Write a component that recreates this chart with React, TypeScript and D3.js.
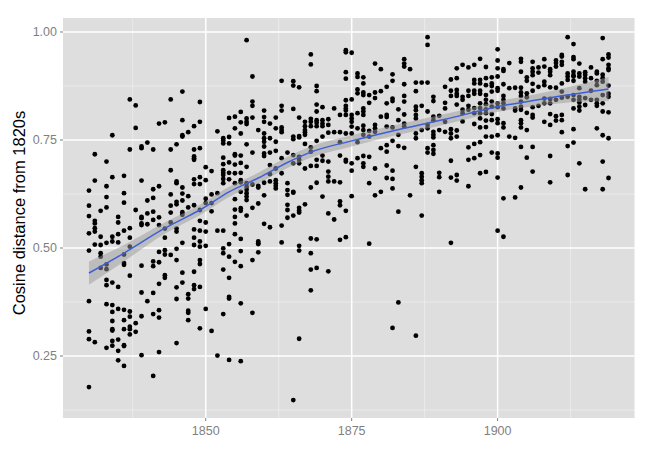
import React from "react";
import * as d3 from "d3";

const yearsStart = 1830;
const pointColumns: number[][] = [
[.633,.598,.574,.534,.494,.377,.307,.289,.178],
[.717,.656,.563,.557,.546,.538,.508,.282],
[.586,.526,.507,.488,.480,.454],
[.700,.643,.618,.594,.512,.462,.451,.426,.414,.370,.269],
[.761,.664,.526,.515,.420,.368,.352,.331,.312,.309,.285,.274],
[.572,.559,.532,.513,.410,.359,.288,.262,.240],
[.667,.627,.605,.540,.485,.465,.461,.357,.333,.312,.275,.273,.227],
[.844,.728,.546,.524,.503,.436,.353,.341,.318,.312,.300],
[.830,.778,.588,.326,.306],
[.735,.731,.656,.572,.569,.557,.553,.459,.397,.342,.252],
[.744,.610,.580,.555,.377],
[.728,.636,.616,.584,.565,.469,.458,.396,.347,.204],
[.788,.643,.571,.553,.491,.467,.417,.356,.339,.259],
[.791,.545,.524,.495,.485,.437,.431],
[.844,.728,.680,.624,.598,.582,.559,.484],
[.740,.654,.650,.607,.601,.545,.538,.498,.472,.409,.382,.280],
[.862,.796,.761,.758,.640,.626,.610,.583,.577,.512,.443,.420],
[.768,.620,.594,.393,.383,.355,.350,.333],
[.782,.728,.712,.708,.704,.659,.648,.599,.543,.524,.507,.445,.414,.405],
[.838,.792,.731,.664,.648,.588,.563,.540,.515,.503,.472,.463,.410,.314],
[.687,.657,.614,.604,.559,.538,.505,.359],
[.678,.624,.604,.585,.308],
[.770,.627,.540,.251],
[.754,.749,.742,.709,.694,.680,.674,.669,.660,.650,.540,.499,.488,.450,.347],
[.801,.757,.742,.698,.674,.659,.509,.480,.431,.387,.383,.241],
[.804,.777,.717,.714,.693,.673,.650,.613,.589,.572,.557,.532,.468],
[.815,.791,.765,.714,.697,.674,.657,.652,.630,.592,.586,.521,.493,.458,.372,.238],
[.981,.800,.792,.787,.740,.688,.650,.642,.635,.627,.619,.611,.575],
[.897,.839,.829,.802,.721,.647,.593,.472,.350],
[.773,.644,.640,.603,.515,.511,.509,.490],
[.818,.803,.792,.765,.754,.746,.735,.719,.713,.651,.622,.556],
[.788,.754,.721,.692,.671,.654,.548],
[.802,.777,.746,.725,.684,.657,.650,.644,.638],
[.887,.829,.818,.779,.773,.768,.708,.673,.552,.513],
[.721,.650,.634,.623,.600,.588,.570],
[.886,.876,.822,.758,.752,.715,.696,.630,.628,.575,.148],
[.872,.802,.759,.756,.711,.704,.696,.593,.587,.582,.505,.494,.290],
[.792,.782,.773,.768,.762,.741,.684,.601],
[.948,.925,.799,.792,.782,.733,.723,.690,.640,.522,.488,.450,.402],
[.875,.863,.832,.816,.796,.790,.782,.748,.704,.690,.651,.520,.454],
[.826,.796,.788,.782,.758,.714,.702,.619],
[.798,.785,.767,.700,.677,.665,.654,.580,.446],
[.823,.768,.654,.566],
[.808,.768,.745,.714,.652,.608,.599,.519],
[.958,.953,.907,.892,.842,.829,.823,.818,.808,.765,.704,.700,.586,.525],
[.952,.844,.808,.800,.792,.781,.765,.696,.679,.620],
[.904,.896,.867,.858,.812,.777,.745,.708],
[.895,.881,.860,.854,.823,.816,.808,.783,.773,.762,.713,.696,.688],
[.854,.836,.771,.758,.711,.650,.510],
[.927,.860,.847,.785,.777,.769,.684,.622],
[.914,.863,.804,.731,.630],
[.873,.835,.808,.803,.781,.738,.723,.691,.662],
[.902,.887,.846,.840,.779,.748,.679,.660,.638,.315],
[.821,.796,.762,.736,.584,.374],
[.937,.927,.920,.879,.852,.839,.809,.788,.781,.732],
[.914,.622],
[.883,.863,.827,.819,.808,.800,.765,.754,.688,.297],
[.883,.829,.773,.673,.665,.657,.650,.575],
[.988,.970,.883,.816,.785,.777,.731,.721],
[.850,.840,.804,.796,.769,.762,.756,.738,.727,.718],
[.806,.773,.674,.664,.630],
[.873,.836,.823,.792,.769],
[.890,.864,.852,.775,.765,.754,.702,.663,.512],
[.916,.893,.866,.857,.852,.832,.772,.758,.669,.656],
[.924,.850,.843,.820,.812,.793],
[.918,.864,.852,.829,.820,.733,.704,.643],
[.924,.889,.881,.864,.857,.824,.812,.787,.741,.708],
[.938,.889,.881,.864,.857,.835,.824,.812,.800,.779,.745,.715,.673],
[.919,.893,.877,.854,.843,.833,.821,.812,.795,.780,.758,.676],
[.895,.881,.875,.862,.839,.827,.810,.796,.758,.721],
[.960,.934,.916,.897,.870,.864,.835,.826,.798,.789,.761,.719,.709,.663,.540],
[.914,.910,.879,.852,.843,.835,.823,.789,.779,.615,.526],
[.928,.870,.758],
[.871,.823,.818,.755,.617],
[.938,.931,.908,.871,.860,.852,.839,.827,.820,.796,.789,.779,.734,.640],
[.895,.887,.858,.849,.813,.773,.709],
[.931,.916,.908,.900,.880,.864,.826,.808,.802,.734,.677],
[.918,.906,.873,.829],
[.937,.920,.885,.877,.846,.835,.792],
[.914,.908,.900,.872,.845,.835,.810,.785,.713,.652],
[.934,.928,.920,.871,.843,.805,.795],
[.947,.943,.931,.924,.881,.862,.848,.808,.796,.768],
[.988,.904,.897,.889,.850,.736,.669],
[.972,.942,.937,.908,.900,.897,.887,.854,.843,.823,.775,.744],
[.927,.904,.897,.870,.850,.843,.837,.827,.818,.696],
[.907,.901,.893,.885,.847,.831,.636],
[.918,.893,.864,.843],
[.908,.904,.887,.877,.843,.835,.829,.777],
[.986,.937,.901,.893,.885,.854,.835,.816,.761,.700,.636],
[.948,.941,.924,.916,.912,.876,.857,.850,.814,.754,.662],
];

const smoothYears = [1830, 1836, 1843, 1846, 1849, 1854, 1859, 1864, 1868, 1875, 1882, 1891, 1900, 1910, 1919];
const smoothValues = [.442, .488, .546, .567, .588, .630, .662, .698, .722, .748, .771, .798, .827, .850, .868];
const smoothErrors = [.027, .019, .013, .012, .012, .012, .012, .013, .013, .013, .012, .012, .012, .016, .028];

const xMajor = [1850, 1875, 1900];
const xMinor = [1837.5, 1862.5, 1887.5, 1912.5];
const yMajor = [0.25, 0.5, 0.75, 1.0];
const yMinor = [0.125, 0.375, 0.625, 0.875];

const W = 654, H = 465;
const panel = { left: 63, right: 634.5, top: 18, bottom: 418 };
const x = d3.scaleLinear().domain([1825.55, 1923.45]).range([panel.left, panel.right]);
const y = d3.scaleLinear().domain([0.1065, 1.0324]).range([panel.bottom, panel.top]);

const points = pointColumns.flatMap((col, i) => col.map((v) => ({ year: yearsStart + i, v })));
const smooth = smoothYears.map((yr, i) => ({ yr, v: smoothValues[i], e: smoothErrors[i] }));
const linePath = d3.line<typeof smooth[number]>().x((d) => x(d.yr)).y((d) => y(d.v)).curve(d3.curveMonotoneX)(smooth)!;
const ribbonPath = d3.area<typeof smooth[number]>().x((d) => x(d.yr)).y0((d) => y(d.v - d.e)).y1((d) => y(d.v + d.e)).curve(d3.curveMonotoneX)(smooth)!;

const font = "'Liberation Sans', Arial, sans-serif";
const axisColor = "#7f7f7f";

export default function App() {
  return (
    <svg width={W} height={H} style={{ position: "fixed", left: 0, top: 0, background: "#fff" }} fontFamily={font}>
      <rect x={panel.left} y={panel.top} width={panel.right - panel.left} height={panel.bottom - panel.top} fill="#dedede" />
      {yMinor.map((t) => <line key={t} x1={panel.left} x2={panel.right} y1={y(t)} y2={y(t)} stroke="#eeeeee" strokeWidth={0.8} />)}
      {xMinor.map((t) => <line key={t} x1={x(t)} x2={x(t)} y1={panel.top} y2={panel.bottom} stroke="#eeeeee" strokeWidth={0.8} />)}
      {yMajor.map((t) => <line key={t} x1={panel.left} x2={panel.right} y1={y(t)} y2={y(t)} stroke="#ffffff" strokeWidth={1.5} />)}
      {xMajor.map((t) => <line key={t} x1={x(t)} x2={x(t)} y1={panel.top} y2={panel.bottom} stroke="#ffffff" strokeWidth={1.5} />)}
      {points.map((p, i) => <circle key={i} cx={x(p.year)} cy={y(p.v)} r={2.4} fill="#000" />)}
      <path d={ribbonPath} fill="#999999" fillOpacity={0.5} />
      <path d={linePath} fill="none" stroke="#3f5fd6" strokeWidth={1.5} />
      {yMajor.map((t) => (
        <g key={t}>
          <line x1={panel.left - 3} x2={panel.left} y1={y(t)} y2={y(t)} stroke={axisColor} />
          <text x={panel.left - 6} y={y(t)} dy="0.35em" textAnchor="end" fontSize={12.5} fill={axisColor}>{t.toFixed(2)}</text>
        </g>
      ))}
      {xMajor.map((t) => (
        <g key={t}>
          <line x1={x(t)} x2={x(t)} y1={panel.bottom} y2={panel.bottom + 3} stroke={axisColor} />
          <text x={x(t)} y={panel.bottom + 17} textAnchor="middle" fontSize={12.5} fill={axisColor}>{t}</text>
        </g>
      ))}
      <text transform={`translate(25,213) rotate(-90)`} textAnchor="middle" fontSize={16.5} fill="#000">Cosine distance from 1820s</text>
    </svg>
  );
}
